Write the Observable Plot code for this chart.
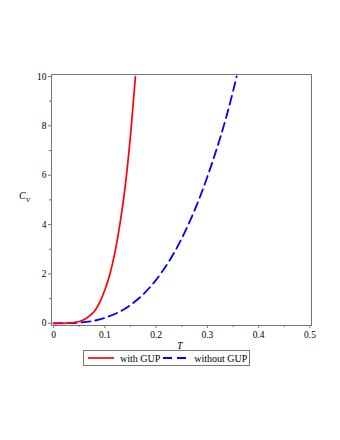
<!DOCTYPE html>
<html>
<head>
<meta charset="utf-8">
<script src="https://cdn.jsdelivr.net/npm/d3@7"></script>
<script src="https://cdn.jsdelivr.net/npm/@observablehq/plot@0.6"></script>
<style>
  body { margin: 0; background: #fff; }
  #wrap { position: relative; width: 340px; height: 440px; font-family: "Liberation Serif", "Times New Roman", "DejaVu Serif", serif; }
  #wrap svg text { font-family: "Liberation Serif", "Times New Roman", "DejaVu Serif", serif !important; }
  .lab { position: absolute; font-style: italic; color: #000; font-family: "Liberation Serif", "Times New Roman", "DejaVu Serif", serif; }
  #legend { position: absolute; left: 83px; top: 350px; height: 14px; border: 1px solid #777; background: #fff;
            display: flex; align-items: center; font-size: 10px; padding: 0 2px 0 3px; white-space: nowrap;
            font-family: "Liberation Serif", "Times New Roman", "DejaVu Serif", serif; }
  #legend svg { display: block; }
</style>
</head>
<body>
<div id="wrap"></div>
<script>
// Data
const tGUP  = [0, 0.03, 0.05, 0.06, 0.07, 0.08, 0.09, 0.10, 0.11, 0.12, 0.13, 0.14, 0.15, 0.1597];
const cGUP  = [0, 0.01, 0.07, 0.15, 0.3, 0.5, 0.85, 1.35, 2.0, 2.9, 4.1, 5.6, 7.6, 10];
const tNo   = [0, 0.05, 0.10, 0.15, 0.20, 0.25, 0.30, 0.35, 0.357];
const cNo   = [0, 0.027, 0.22, 0.74, 1.76, 3.44, 5.94, 9.4, 10];
const seriesNames = ["with GUP", "without GUP"];
const xTicks = [0, 0.1, 0.2, 0.3, 0.4, 0.5];
const xMinor = [0.05, 0.15, 0.25, 0.35, 0.45];
const yTicks = [0, 2, 4, 6, 8, 10];
const yMinor = [1, 3, 5, 7, 9];

const withGUP = tGUP.map((t, i) => ({T: t, C: cGUP[i]}));
const withoutGUP = tNo.map((t, i) => ({T: t, C: cNo[i]}));

const chart = Plot.plot({
  width: 340,
  height: 440,
  marginLeft: 51,
  marginRight: 29,
  marginTop: 74,
  marginBottom: 115,
  style: {fontFamily: "'Liberation Serif', 'Times New Roman', 'DejaVu Serif', serif", fontSize: "9.5px", color: "#000", background: "#fff"},
  x: {domain: [-0.004, 0.503]},
  y: {domain: [-0.09, 10.08]},
  marks: [
    Plot.frame({stroke: "#777", strokeWidth: 1}),
    Plot.axisX({ticks: xTicks, tickFormat: d => d === 0 ? "0" : String(d), tickSize: 3, tickPadding: 3, stroke: "#777", label: null}),
    Plot.axisX({ticks: xMinor, tickFormat: () => "", tickSize: 2, stroke: "#777", label: null}),
    Plot.axisY({ticks: yTicks, tickSize: 3, tickPadding: 2, stroke: "#777", label: null}),
    Plot.axisY({ticks: yMinor, tickFormat: () => "", tickSize: 2, stroke: "#777", label: null}),
    Plot.line(withoutGUP, {x: "T", y: "C", stroke: "#0000ff", strokeWidth: 1.8, strokeDasharray: "9,5", curve: "monotone-x"}),
    Plot.line(withGUP, {x: "T", y: "C", stroke: "#ff0000", strokeWidth: 1.7, curve: "monotone-x"})
  ]
});

const wrap = document.getElementById("wrap");
wrap.appendChild(chart);

const cv = document.createElement("div");
cv.className = "lab";
cv.style.left = "19px"; cv.style.top = "190px"; cv.style.fontSize = "10px";
cv.innerHTML = 'C<sub style="font-size:7px;vertical-align:-3px">V</sub>';
wrap.appendChild(cv);

const tl = document.createElement("div");
tl.className = "lab";
tl.style.left = "177px"; tl.style.top = "340px"; tl.style.fontSize = "10px";
tl.textContent = "T";
wrap.appendChild(tl);

const lg = document.createElement("div");
lg.id = "legend";
lg.innerHTML =
  '<svg width="30" height="8"><line x1="1" y1="4" x2="27" y2="4" stroke="#ff0000" stroke-width="1.7"/></svg>' +
  '<span style="margin-left:3px;margin-right:3px">' + seriesNames[0] + '</span>' +
  '<svg width="28" height="8"><line x1="0" y1="4" x2="28" y2="4" stroke="#0000ff" stroke-width="1.8" stroke-dasharray="9,5"/></svg>' +
  '<span style="margin-left:3px">' + seriesNames[1] + '</span>';
wrap.appendChild(lg);
</script>
</body>
</html>
